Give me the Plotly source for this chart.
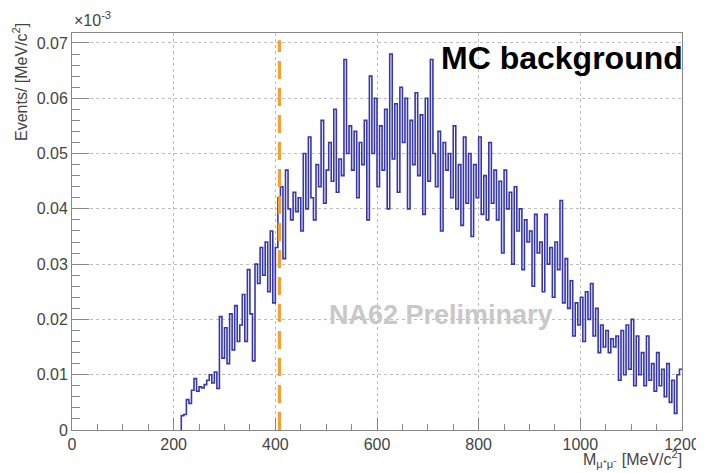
import plotly.graph_objects as go

# Histogram: bin width 5 MeV/c^2, first bin starts at 215 MeV/c^2 (values in units of 1e-3)
BIN_START = 215
BIN_WIDTH = 5
counts = [
    0.0026, 0.0028, 0.0055, 0.0048, 0.0072, 0.0093,
    0.0070, 0.0078, 0.0076, 0.0082, 0.0090, 0.0100, 0.0085, 0.0105, 0.0075,
    0.0205, 0.0130, 0.0185, 0.0120, 0.0210, 0.0145, 0.0225, 0.0160, 0.0190,
    0.0245, 0.0160, 0.0290, 0.0210, 0.0125, 0.0300, 0.0265, 0.0330, 0.0280, 0.0340,
    0.0250, 0.0360, 0.0230, 0.0330, 0.0420, 0.0440, 0.0310, 0.0470, 0.0400, 0.0380,
    0.0430, 0.0395, 0.0420, 0.0360, 0.0500, 0.0400, 0.0530, 0.0420, 0.0380, 0.0480,
    0.0440, 0.0560, 0.0410, 0.0470, 0.0520, 0.0450, 0.0580, 0.0430, 0.0490, 0.0460,
    0.0670, 0.0500, 0.0550, 0.0470, 0.0540, 0.0420, 0.0520, 0.0480, 0.0560, 0.0380,
    0.0640, 0.0500, 0.0600, 0.0440, 0.0550, 0.0470, 0.0580, 0.0400, 0.0680, 0.0490,
    0.0590, 0.0430, 0.0620, 0.0520, 0.0600, 0.0400, 0.0560, 0.0480, 0.0610, 0.0460,
    0.0570, 0.0390, 0.0600, 0.0450, 0.0670, 0.0500, 0.0440, 0.0540, 0.0360, 0.0520,
    0.0470, 0.0500, 0.0420, 0.0550, 0.0400, 0.0480, 0.0370, 0.0530, 0.0410, 0.0500,
    0.0350, 0.0480, 0.0420, 0.0530, 0.0390, 0.0460, 0.0380, 0.0520, 0.0410, 0.0470,
    0.0380, 0.0450, 0.0320, 0.0470, 0.0400, 0.0430, 0.0300, 0.0440, 0.0360, 0.0400,
    0.0290, 0.0380, 0.0340, 0.0360, 0.0260, 0.0390, 0.0320, 0.0340, 0.0250, 0.0390,
    0.0300, 0.0330, 0.0240, 0.0340, 0.0290, 0.0415, 0.0230, 0.0310, 0.0220, 0.0270,
    0.0170, 0.0230, 0.0190, 0.0240, 0.0160, 0.0250, 0.0200, 0.0265, 0.0170, 0.0220,
    0.0140, 0.0190, 0.0150, 0.0180, 0.0140, 0.0165, 0.0150, 0.0170, 0.0090, 0.0180,
    0.0100, 0.0190, 0.0110, 0.0200, 0.0080, 0.0170, 0.0100, 0.0140, 0.0080, 0.0170,
    0.0090, 0.0120, 0.0070, 0.0140, 0.0080, 0.0110, 0.0060, 0.0120, 0.0050, 0.0090,
    0.0030, 0.0100, 0.0110,
]

x_ticks = [0, 200, 400, 600, 800, 1000, 1200]
x_ticktext = ["0", "200", "400", "600", "800", "1000", "1200"]
y_ticks = [0, 0.01, 0.02, 0.03, 0.04, 0.05, 0.06, 0.07]
y_ticktext = ["0", "0.01", "0.02", "0.03", "0.04", "0.05", "0.06", "0.07"]
X_RANGE = [0, 1200]
Y_RANGE = [0, 0.0718]
CUT_VALUE = 408  # orange dashed cut
CUT_TOP = 0.0705

edges = [BIN_START + BIN_WIDTH * i for i in range(len(counts) + 1)]
xs = [BIN_START] + edges
ys = [0] + counts + [counts[-1]]

FONT = "Liberation Sans, Arial, Helvetica, sans-serif"
TICKCOL = "#444444"

fig = go.Figure()
fig.add_trace(go.Scatter(x=xs, y=ys, mode="lines", line=dict(color="#3636ad", width=1.6, shape="hv"),
                         hoverinfo="skip", showlegend=False))
fig.add_trace(go.Scatter(x=[CUT_VALUE, CUT_VALUE], y=[0, CUT_TOP], mode="lines",
                         line=dict(color="#f5a030", width=3.2, dash="18px,9px"),
                         hoverinfo="skip", showlegend=False))

axis_common = dict(showline=True, linecolor="#888888", linewidth=1, mirror=True,
                   showgrid=True, gridcolor="#bdbdbd", griddash="dot", gridwidth=1,
                   zeroline=False, ticks="inside", tickcolor="#888888", automargin=False,
                   tickfont=dict(family=FONT, size=16, color=TICKCOL))

fig.update_xaxes(range=X_RANGE, tickvals=x_ticks, ticktext=x_ticktext, ticklen=12,
                 minor=dict(ticks="inside", dtick=50, ticklen=6, tickcolor="#888888", showgrid=False),
                 **axis_common)
fig.update_yaxes(range=Y_RANGE, tickvals=y_ticks, ticktext=y_ticktext, ticklen=17,
                 minor=dict(ticks="inside", dtick=0.002, ticklen=8, tickcolor="#888888", showgrid=False),
                 **axis_common)

fig.update_layout(
    width=696, height=465,
    margin=dict(l=64, r=22, t=25, b=43),
    paper_bgcolor="white", plot_bgcolor="white",
    font=dict(family=FONT),
    annotations=[
        dict(text="×10<sup>-3</sup>", xref="paper", yref="paper", x=0, y=1, xanchor="left",
             yanchor="bottom", yshift=2, showarrow=False, font=dict(size=16, color=TICKCOL)),
        dict(text="Events/ [MeV/c<sup>2</sup>]", xref="paper", yref="paper", x=0, y=1,
             xanchor="right", yanchor="top", xshift=-40, yshift=12, textangle=-90,
             showarrow=False, font=dict(size=16, color=TICKCOL)),
        dict(text="M<sub>μ⁺μ⁻</sub> [MeV/c<sup>2</sup>]", xref="paper", yref="paper", x=1, y=0,
             xanchor="right", yanchor="top", yshift=-16, xshift=2, showarrow=False,
             font=dict(size=16, color=TICKCOL)),
        dict(text="<b>MC background</b>", xref="paper", yref="paper", x=1, y=1,
             xanchor="right", yanchor="top", yshift=-5, xshift=3, showarrow=False,
             font=dict(size=32, color="black")),
        dict(text="<b>NA62 Preliminary</b>", xref="paper", yref="paper", x=0.605, y=0.29,
             xanchor="center", yanchor="middle", showarrow=False,
             font=dict(size=27, color="#c8c8c8")),
    ],
)

fig.write_html("out.html")
